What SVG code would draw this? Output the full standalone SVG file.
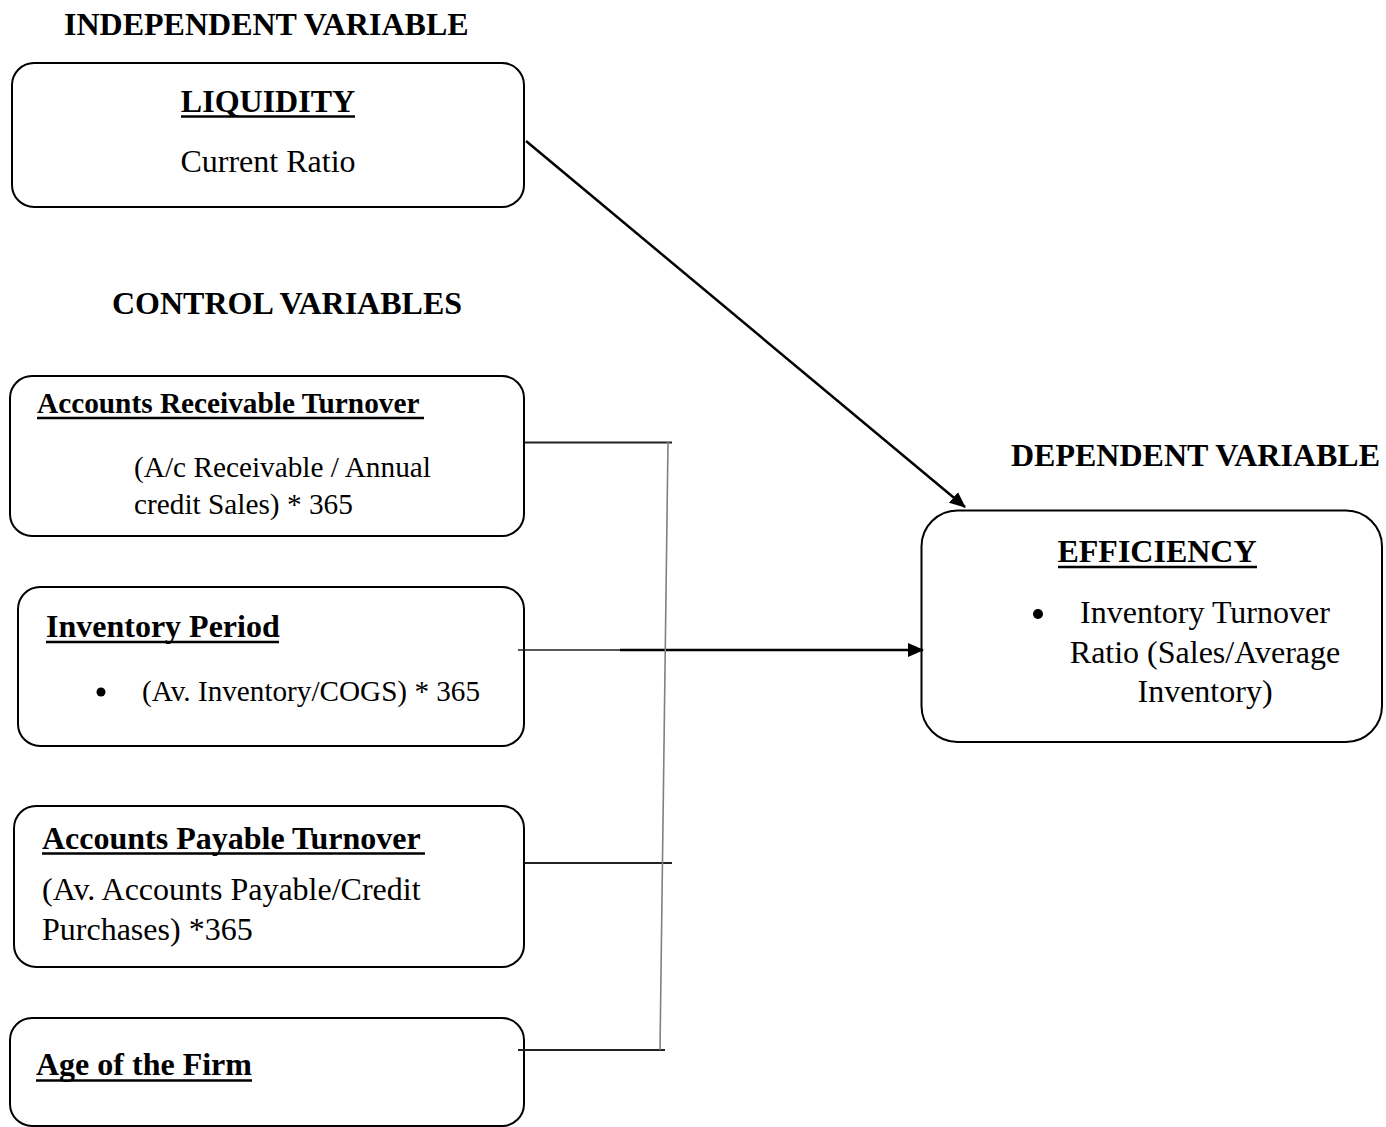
<svg xmlns="http://www.w3.org/2000/svg" width="1386" height="1127" viewBox="0 0 1386 1127">
<defs>
<style>
.box{fill:#fff;stroke:#000;stroke-width:2}
.h{font-family:"Liberation Serif","Times New Roman",serif;font-weight:bold;font-size:32px;fill:#000}
.t{font-family:"Liberation Serif","Times New Roman",serif;font-size:32px;fill:#000}
.ul{stroke:#000;stroke-width:2.5}
.conn{stroke:#222;stroke-width:2;fill:none}
.vert{stroke:#808080;stroke-width:1.6;fill:none}
.arr{stroke:#000;stroke-width:2.5;fill:none}
</style>
<marker id="ah" markerWidth="16" markerHeight="14" refX="15" refY="7" orient="auto" markerUnits="userSpaceOnUse">
<path d="M0,0 L16,7 L0,14 Z" fill="#000"/>
</marker>
</defs>
<rect width="1386" height="1127" fill="#fff"/>

<g id="headings">
<text class="h" x="64" y="35">INDEPENDENT VARIABLE</text>
<text class="h" x="112" y="314">CONTROL VARIABLES</text>
<text class="h" x="1011" y="466">DEPENDENT VARIABLE</text>
</g>

<g id="liquidity">
<rect class="box" x="12" y="63" width="512" height="144" rx="22"/>
<text class="h" x="268" y="112" text-anchor="middle">LIQUIDITY</text>
<line class="ul" x1="181" y1="116.5" x2="355" y2="116.5"/>
<text class="t" x="268" y="172" text-anchor="middle">Current Ratio</text>
</g>

<g id="accounts-receivable">
<rect class="box" x="10" y="376" width="514" height="160" rx="22"/>
<text class="h" x="37" y="413" style="font-size:29.3px">Accounts Receivable Turnover</text>
<line class="ul" x1="37" y1="418" x2="424" y2="418"/>
<text class="t" x="134" y="477" style="font-size:29.3px">(A/c Receivable / Annual</text>
<text class="t" x="134" y="514" style="font-size:29.3px">credit Sales) * 365</text>
</g>

<g id="inventory-period">
<rect class="box" x="18" y="587" width="506" height="159" rx="22"/>
<text class="h" x="46" y="637">Inventory Period</text>
<line class="ul" x1="46" y1="642" x2="279" y2="642"/>
<circle cx="101" cy="692" r="4.5" fill="#000"/>
<text class="t" x="142" y="701" style="font-size:29.2px">(Av. Inventory/COGS) * 365</text>
</g>

<g id="accounts-payable">
<rect class="box" x="14" y="806" width="510" height="161" rx="22"/>
<text class="h" x="42" y="849">Accounts Payable Turnover</text>
<line class="ul" x1="42" y1="853.5" x2="425" y2="853.5"/>
<text class="t" x="42" y="900">(Av. Accounts Payable/Credit</text>
<text class="t" x="42" y="940">Purchases) *365</text>
</g>

<g id="age-of-firm">
<rect class="box" x="10" y="1018" width="514" height="108" rx="22"/>
<text class="h" x="36" y="1075">Age of the Firm</text>
<line class="ul" x1="36" y1="1080.5" x2="252" y2="1080.5"/>
</g>

<g id="efficiency">
<rect class="box" x="921.5" y="510.5" width="460.5" height="231.5" rx="36"/>
<text class="h" x="1157" y="562" text-anchor="middle">EFFICIENCY</text>
<line class="ul" x1="1058" y1="567" x2="1257" y2="567"/>
<circle cx="1038" cy="614" r="5" fill="#000"/>
<text class="t" x="1205" y="623" text-anchor="middle">Inventory Turnover</text>
<text class="t" x="1205" y="663" text-anchor="middle">Ratio (Sales/Average</text>
<text class="t" x="1205" y="702" text-anchor="middle">Inventory)</text>
</g>

<g id="connectors">
<line class="arr" x1="526" y1="141" x2="965" y2="507" marker-end="url(#ah)"/>
<line class="conn" x1="518" y1="650" x2="620" y2="650" style="stroke-width:1.5"/>
<line class="arr" x1="620" y1="650" x2="923" y2="650" marker-end="url(#ah)"/>
<line class="conn" x1="525" y1="442.5" x2="672" y2="442.5"/>
<line class="conn" x1="525" y1="863" x2="672" y2="863"/>
<line class="conn" x1="518" y1="1050" x2="665" y2="1050"/>
<line class="vert" x1="668" y1="442" x2="660" y2="1050"/>
</g>
</svg>
